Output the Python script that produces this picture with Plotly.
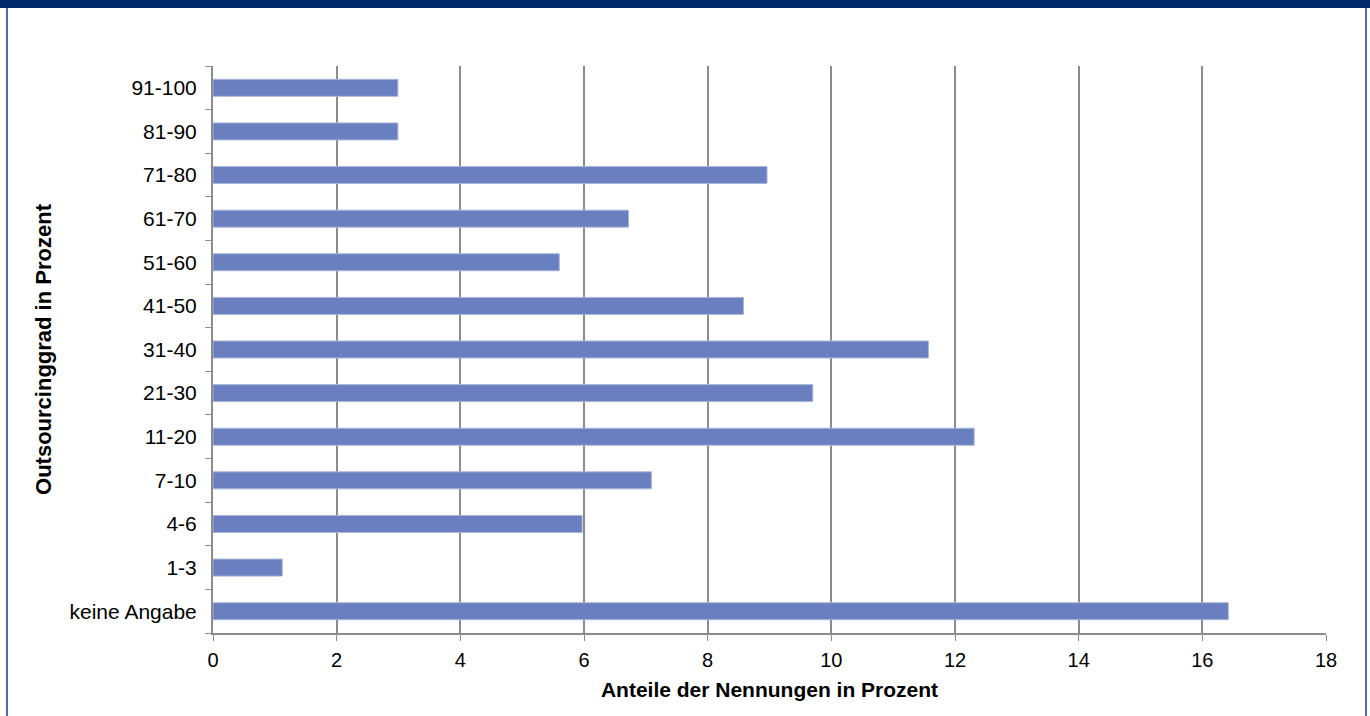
import plotly.graph_objects as go

CATEGORIES = ["keine Angabe", "1-3", "4-6", "7-10", "11-20", "21-30", "31-40",
              "41-50", "51-60", "61-70", "71-80", "81-90", "91-100"]
SHARES = [16.42, 1.12, 5.97, 7.09, 12.31, 9.70, 11.57,
          8.58, 5.60, 6.72, 8.96, 2.99, 2.99]
X_TICKS = [0, 2, 4, 6, 8, 10, 12, 14, 16, 18]

BAR_COLOR = "#6A7FBF"
GRID_COLOR = "#8C8C8C"
NAVY = "#002A6C"
FRAME = "#4F6FA8"
FONT = "Liberation Sans, Arial, sans-serif"

W, H = 1370, 716
L, R, T, B = 213, 44, 66, 83
pw, ph = W - L - R, H - T - B


def px_x(px):
    return (px - L) / pw


def px_y(py):
    return 1 - (py - T) / ph


fig = go.Figure()
fig.add_trace(go.Bar(
    x=SHARES, y=CATEGORIES, orientation="h",
    marker=dict(color=BAR_COLOR, line=dict(color="#A9B6DC", width=1)),
    hovertemplate="%{y}: %{x:.2f}%<extra></extra>",
))

fig.update_layout(
    width=W, height=H,
    margin=dict(l=L, r=R, t=T, b=B),
    paper_bgcolor="white", plot_bgcolor="white",
    font=dict(family=FONT, size=21, color="black"),
    bargap=0.61,
    showlegend=False,
    shapes=[
        # navy top band
        dict(type="rect", xref="paper", yref="paper",
             x0=px_x(0), x1=px_x(W), y0=px_y(8), y1=px_y(0),
             fillcolor=NAVY, line_width=0, layer="above"),
        # frame sides
        dict(type="line", xref="paper", yref="paper",
             x0=px_x(7), x1=px_x(7), y0=px_y(8), y1=px_y(H),
             line=dict(color=FRAME, width=2)),
        dict(type="line", xref="paper", yref="paper",
             x0=px_x(1366), x1=px_x(1366), y0=px_y(8), y1=px_y(H),
             line=dict(color=FRAME, width=2)),
    ],
)

fig.update_xaxes(
    range=[0, 18], tickvals=X_TICKS, ticks="outside", ticklen=6,
    tickcolor=GRID_COLOR, showgrid=True, gridcolor=GRID_COLOR, gridwidth=1.5,
    showline=True, linecolor=GRID_COLOR, linewidth=2, zeroline=False,
    tickfont=dict(size=20), ticklabelstandoff=2,
    title=dict(text="<b>Anteile der Nennungen in Prozent</b>",
               font=dict(size=21), standoff=12),
    fixedrange=True,
)
fig.update_yaxes(
    categoryorder="array", categoryarray=CATEGORIES,
    ticks="outside", ticklen=6, tickcolor=GRID_COLOR, tickson="boundaries",
    showline=True, linecolor=GRID_COLOR, linewidth=2, showgrid=False,
    tickfont=dict(size=21), ticklabelstandoff=10,
    title=dict(text="<b>Outsourcinggrad in Prozent</b>",
               font=dict(size=22), standoff=12),
    fixedrange=True,
)

fig.write_html("out.html", config={"displayModeBar": False},
               post_script="document.body.style.margin='0';")
